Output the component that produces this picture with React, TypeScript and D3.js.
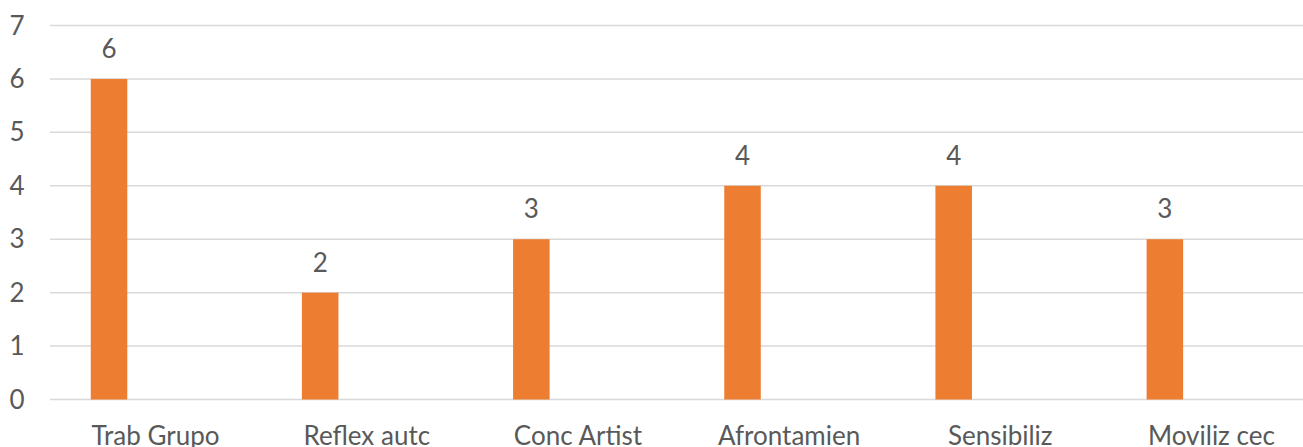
import React from "react";
import * as d3 from "d3";

const categories = ["Trab Grupo", "Reflex autc", "Conc Artist", "Afrontamien", "Sensibiliz", "Moviliz cec"];
const values = [6, 2, 3, 4, 4, 3];
const yTicks = [0, 1, 2, 3, 4, 5, 6, 7];

const W = 1303;
const H = 447;
const FONT = "Lato, 'Open Sans', sans-serif";
const TEXT = "#595959";

export default function App() {
  const x = d3.scaleBand<string>().domain(categories).range([50, 1317]).padding(0);
  const y = d3.scaleLinear().domain([0, 7]).range([399.5, 25.5]);
  const bw = x.bandwidth();
  const barW = bw * 0.173;
  const barOff = bw * 0.193;

  return (
    <svg
      width={W}
      height={H}
      style={{ position: "absolute", left: 0, top: 0, background: "#fff" }}
      fontFamily={FONT}
    >
      {yTicks.map((t) => (
        <g key={t}>
          <line x1={50} x2={W} y1={y(t)} y2={y(t)} stroke="#d9d9d9" strokeWidth={1.5} />
          <text x={24.5} y={y(t) + 9} textAnchor="end" fontSize={26} fill={TEXT}>
            {t}
          </text>
        </g>
      ))}
      {categories.map((c, i) => {
        const x0 = (x(c) as number) + barOff;
        return (
          <g key={c}>
            <rect x={x0} y={y(values[i])} width={barW} height={y(0) - y(values[i])} fill="#ED7D31" />
            <text x={x0 + barW / 2} y={y(values[i]) - 21} textAnchor="middle" fontSize={26} fill={TEXT}>
              {values[i]}
            </text>
            <text x={(x(c) as number) + bw / 2} y={445} textAnchor="middle" fontSize={26} fill={TEXT}>
              {c}
            </text>
          </g>
        );
      })}
    </svg>
  );
}
